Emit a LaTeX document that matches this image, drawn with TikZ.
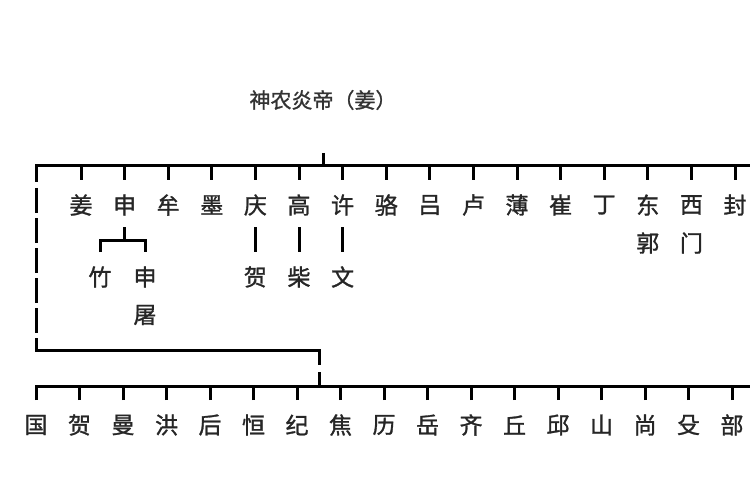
\documentclass[tikz,border=0pt]{standalone}
\usepackage{fontspec}
\newfontfamily\cjk[FakeBold=1.2]{Noto Sans CJK SC}
\usetikzlibrary{positioning}
\begin{document}
\begin{tikzpicture}[x=1pt,y=-1pt,line width=3pt,every node/.style={minimum width=43.6pt,minimum height=22pt,inner sep=0pt,outer sep=0pt,font=\cjk\fontsize{23}{27}\selectfont,text=black!85}]
        \useasboundingbox [fill=white] (0,0) rectangle (750,500);

        \node [font=\cjk\fontsize{21}{25}\selectfont, text=black!80] at (323,100) (root) {神农炎帝（姜）};

        % upper row
        \node at (81,205) (jiang) {姜};
        \node [anchor=west] at (jiang.east) (shen) {申};
        \node [anchor=west] at (shen.east) (mou) {牟};
        \node [anchor=west] at (mou.east) (mo) {墨};
        \node [anchor=west] at (mo.east) (qing) {庆};
        \node [anchor=west] at (qing.east) (gao) {高};
        \node [anchor=west] at (gao.east) (xu) {许};
        \node [anchor=west] at (xu.east) (luo) {骆};
        \node [anchor=west] at (luo.east) (lv) {吕};
        \node [anchor=west] at (lv.east) (lu) {卢};
        \node [anchor=west] at (lu.east) (bo) {薄};
        \node [anchor=west] at (bo.east) (cui) {崔};
        \node [anchor=west] at (cui.east) (ding) {丁};
        \node [anchor=west] at (ding.east) (dong) {东};
        \node [anchor=west] at (dong.east) (xi) {西};
        \node [anchor=west] at (xi.east) (feng) {封};

        \node [below=16pt of dong] (dongguo) {郭};
        \node [below=16pt of xi] (ximen) {门};

        \node at (100,277) (zhu) {竹};
        \node at (145,277) (shentu) {申};
        \node [below=16pt of shentu] (tu) {屠};
        \node [below=50pt of qing] (qinghe) {贺};
        \node [below=50pt of gao] (chai) {柴};
        \node [below=50pt of xu] (wen) {文};

        % lower row
        \node at (36,425) (guo) {国};
        \node [anchor=west, minimum width=43.5pt] at (guo.east) (he) {贺};
        \node [anchor=west, minimum width=43.5pt] at (he.east) (man) {曼};
        \node [anchor=west, minimum width=43.5pt] at (man.east) (hong) {洪};
        \node [anchor=west, minimum width=43.5pt] at (hong.east) (hou) {后};
        \node [anchor=west, minimum width=43.5pt] at (hou.east) (heng) {恒};
        \node [anchor=west, minimum width=43.5pt] at (heng.east) (ji) {纪};
        \node [anchor=west, minimum width=43.5pt] at (ji.east) (jiao) {焦};
        \node [anchor=west, minimum width=43.5pt] at (jiao.east) (li) {历};
        \node [anchor=west, minimum width=43.5pt] at (li.east) (yue) {岳};
        \node [anchor=west, minimum width=43.5pt] at (yue.east) (qi) {齐};
        \node [anchor=west, minimum width=43.5pt] at (qi.east) (qiu) {丘};
        \node [anchor=west, minimum width=43.5pt] at (qiu.east) (qiuyi) {邱};
        \node [anchor=west, minimum width=43.5pt] at (qiuyi.east) (shan) {山};
        \node [anchor=west, minimum width=43.5pt] at (shan.east) (shang) {尚};
        \node [anchor=west, minimum width=43.5pt] at (shang.east) (shu) {殳};
        \node [anchor=west, minimum width=43.5pt] at (shu.east) (bu) {部};

        \coordinate (topbus) at (36,166);
        \coordinate (topend) at (750,166);
        \coordinate (link) at (36,350);
        \coordinate (linkend) at (319,350);
        \coordinate (botbus) at (36,386);
        \coordinate (botend) at (750,386);
        \coordinate (fork) at (126,240);

        \draw [line cap=rect] (topend) -- (topbus);
        \draw [dash pattern=on 16pt off 6pt on 25pt off 5pt on 25pt off 5pt on 25pt off 5pt on 25pt off 5pt on 25pt off 5pt on 12pt] (topbus) -- (link);
        \draw [line cap=rect] (link) -- (linkend);
        \draw [dash pattern=on 15pt off 7pt on 14pt] (linkend) -- (linkend |- botbus);
        \draw [line cap=rect] (botend) -- (botbus);

        \draw [shorten <=42pt] (root.south) -- (root.south |- topbus);

        \draw [shorten <=14pt] (jiang.north) -- (jiang.north |- topbus);
        \draw [shorten <=14pt] (shen.north) -- (shen.north |- topbus);
        \draw [shorten <=14pt] (mou.north) -- (mou.north |- topbus);
        \draw [shorten <=14pt] (mo.north) -- (mo.north |- topbus);
        \draw [shorten <=14pt] (qing.north) -- (qing.north |- topbus);
        \draw [shorten <=14pt] (gao.north) -- (gao.north |- topbus);
        \draw [shorten <=14pt] (xu.north) -- (xu.north |- topbus);
        \draw [shorten <=14pt] (luo.north) -- (luo.north |- topbus);
        \draw [shorten <=14pt] (lv.north) -- (lv.north |- topbus);
        \draw [shorten <=14pt] (lu.north) -- (lu.north |- topbus);
        \draw [shorten <=14pt] (bo.north) -- (bo.north |- topbus);
        \draw [shorten <=14pt] (cui.north) -- (cui.north |- topbus);
        \draw [shorten <=14pt] (ding.north) -- (ding.north |- topbus);
        \draw [shorten <=14pt] (dong.north) -- (dong.north |- topbus);
        \draw [shorten <=14pt] (xi.north) -- (xi.north |- topbus);
        \draw [shorten <=14pt] (feng.north) -- (feng.north |- topbus);

        \draw [shorten <=11pt] (shen.south) -- (shen.south |- fork);
        \draw [shorten <=14pt, shorten >=14pt] (zhu.north) -- (zhu.north |- fork) -- (shentu.north |- fork) -- (shentu.north);
        \draw [shorten <=11pt, shorten >=14pt] (qing.south) -- (qinghe.north);
        \draw [shorten <=11pt, shorten >=14pt] (gao.south) -- (chai.north);
        \draw [shorten <=11pt, shorten >=14pt] (xu.south) -- (wen.north);

        \draw [shorten <=14pt] (guo.north) -- (guo.north |- botbus);
        \draw [shorten <=14pt] (he.north) -- (he.north |- botbus);
        \draw [shorten <=14pt] (man.north) -- (man.north |- botbus);
        \draw [shorten <=14pt] (hong.north) -- (hong.north |- botbus);
        \draw [shorten <=14pt] (hou.north) -- (hou.north |- botbus);
        \draw [shorten <=14pt] (heng.north) -- (heng.north |- botbus);
        \draw [shorten <=14pt] (ji.north) -- (ji.north |- botbus);
        \draw [shorten <=14pt] (jiao.north) -- (jiao.north |- botbus);
        \draw [shorten <=14pt] (li.north) -- (li.north |- botbus);
        \draw [shorten <=14pt] (yue.north) -- (yue.north |- botbus);
        \draw [shorten <=14pt] (qi.north) -- (qi.north |- botbus);
        \draw [shorten <=14pt] (qiu.north) -- (qiu.north |- botbus);
        \draw [shorten <=14pt] (qiuyi.north) -- (qiuyi.north |- botbus);
        \draw [shorten <=14pt] (shan.north) -- (shan.north |- botbus);
        \draw [shorten <=14pt] (shang.north) -- (shang.north |- botbus);
        \draw [shorten <=14pt] (shu.north) -- (shu.north |- botbus);
        \draw [shorten <=14pt] (bu.north) -- (bu.north |- botbus);

\end{tikzpicture}
\end{document}
